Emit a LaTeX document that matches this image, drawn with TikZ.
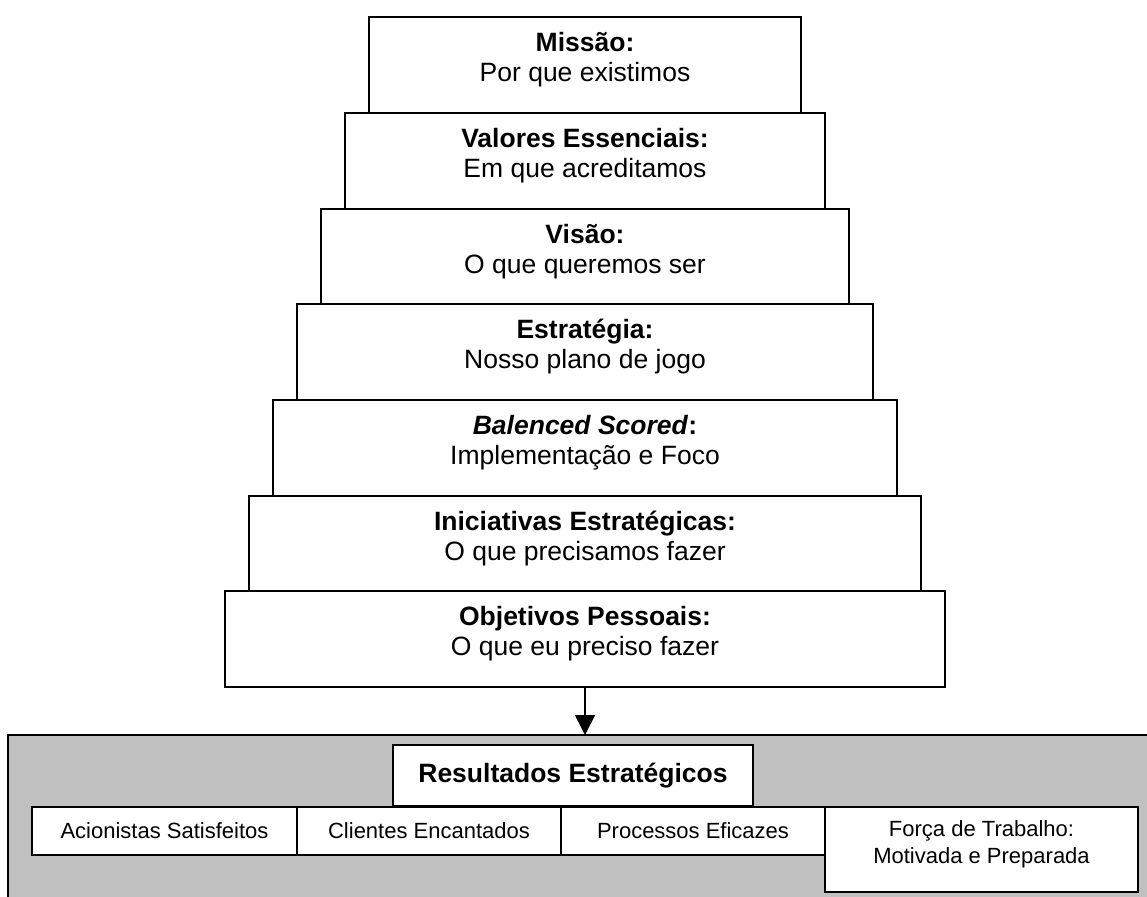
\documentclass[tikz,border=0pt]{standalone}
\usepackage{fontspec}
\setmainfont{Liberation Sans}
\usetikzlibrary{arrows.meta}
\definecolor{panelgray}{RGB}{192,192,192}
\begin{document}
\begin{tikzpicture}[x=1pt,y=-1pt,
  frame/.style={draw=black, line width=1.8pt, fill=white, inner sep=0pt, outer sep=0pt},
  tiertext/.style={align=center, font=\fontsize{26.5}{30}\selectfont, inner sep=0pt},
  rowtext/.style={align=center, font=\fontsize{22}{27}\selectfont},
  panel/.style={draw=black, line width=1.8pt, fill=panelgray, inner sep=0pt, outer sep=0pt},
  flow/.style={line width=1.6pt, -{Triangle[length=20pt,width=20pt]}},
]
\useasboundingbox (0,0) rectangle (1147,896);

% stacked tiers, widening downwards
\node[frame, minimum width=432pt, minimum height=96pt] (t1) at (585,65) {};
\node[frame, minimum width=480pt, minimum height=96pt] (t2) at (585,161) {};
\node[frame, minimum width=528pt, minimum height=95pt] (t3) at (585,256.5) {};
\node[frame, minimum width=576pt, minimum height=96pt] (t4) at (585,352) {};
\node[frame, minimum width=624pt, minimum height=96pt] (t5) at (585,448) {};
\node[frame, minimum width=672pt, minimum height=95pt] (t6) at (585,543.5) {};
\node[frame, minimum width=720pt, minimum height=96pt] (t7) at (585,639) {};

\node[tiertext] (l1) at ([yshift=-43pt]t1.north) {\textbf{Missão:}\\Por que existimos};
\node[tiertext] (l2) at ([yshift=-43pt]t2.north) {\textbf{Valores Essenciais:}\\Em que acreditamos};
\node[tiertext] (l3) at ([yshift=-43pt]t3.north) {\textbf{Visão:}\\O que queremos ser};
\node[tiertext] (l4) at ([yshift=-43pt]t4.north) {\textbf{Estratégia:}\\Nosso plano de jogo};
\node[tiertext] (l5) at ([yshift=-43pt]t5.north) {\textbf{\textit{Balenced Scored}:}\\Implementação e Foco};
\node[tiertext] (l6) at ([yshift=-43pt]t6.north) {\textbf{Iniciativas Estratégicas:}\\O que precisamos fazer};
\node[tiertext] (l7) at ([yshift=-43pt]t7.north) {\textbf{Objetivos Pessoais:}\\O que eu preciso fazer};

% results panel
\node[panel, minimum width=1150pt, minimum height=170pt, anchor=north west] (g) at (8,735) {};

\draw[flow] (t7.south) -- (t7.south |- g.north);

\node[frame, minimum width=360pt, minimum height=61pt,
      font=\bfseries\fontsize{26.5}{30}\selectfont] (r) at (573,775.5) {Resultados Estratégicos};

\node[frame, rowtext, minimum width=265pt, minimum height=48pt] (a) at (164.5,831) {Acionistas Satisfeitos};
\node[frame, rowtext, minimum width=264pt, minimum height=48pt] (c) at (429,831) {Clientes Encantados};
\node[frame, rowtext, minimum width=264pt, minimum height=48pt] (p) at (693,831) {Processos Eficazes};
\node[frame, minimum width=313pt, minimum height=85pt] (f) at (981.5,849.5) {};
\node[rowtext, inner sep=0pt] (fl) at ([yshift=-37pt]f.north) {Força de Trabalho:\\Motivada e Preparada};
\end{tikzpicture}
\end{document}
